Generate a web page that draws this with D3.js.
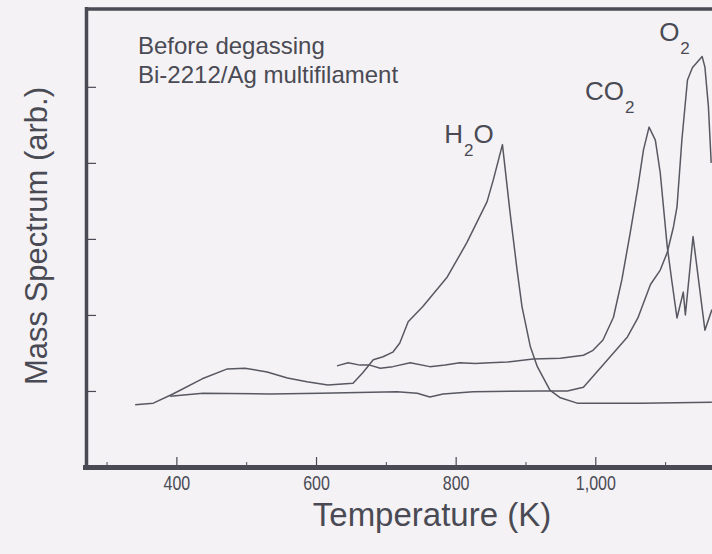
<!DOCTYPE html>
<html>
<head>
<meta charset="utf-8">
<script src="https://cdn.jsdelivr.net/npm/d3@7"></script>
<style>
  html, body { margin: 0; padding: 0; background: #f4f2f4; }
  svg { display: block; }
  text { font-family: "Liberation Sans", Arial, Helvetica, sans-serif; fill: #4a4a54; }
</style>
</head>
<body>
<svg id="chart" width="712" height="554"></svg>
<script>
// Gas evolution during heating of a Bi-2212/Ag multifilament wire (before degassing)

// H2O signal
const h2oTemp = [341, 367, 395, 437, 473, 498, 530, 559, 587, 617, 653, 667, 682, 696, 710, 720, 732, 753, 788, 816, 845, 854, 867, 878, 888, 895, 907, 917, 935, 950, 974, 1064, 1167];
const h2oSignal = [0.82, 0.84, 0.96, 1.16, 1.29, 1.30, 1.25, 1.17, 1.12, 1.08, 1.10, 1.24, 1.41, 1.45, 1.51, 1.63, 1.91, 2.11, 2.50, 2.95, 3.49, 3.78, 4.24, 3.34, 2.59, 2.11, 1.58, 1.32, 1.01, 0.91, 0.84, 0.84, 0.85];

// CO2 signal
const co2Temp = [630, 646, 663, 677, 692, 710, 735, 763, 785, 806, 828, 849, 874, 911, 950, 983, 996, 1011, 1026, 1038, 1050, 1061, 1069, 1077, 1086, 1093, 1103, 1110, 1117, 1126, 1129, 1140, 1157, 1167];
const co2Signal = [1.33, 1.37, 1.34, 1.34, 1.30, 1.32, 1.37, 1.32, 1.34, 1.37, 1.36, 1.37, 1.38, 1.42, 1.43, 1.47, 1.53, 1.67, 1.97, 2.46, 3.08, 3.68, 4.17, 4.47, 4.30, 3.87, 2.90, 2.42, 1.96, 2.30, 2.00, 3.03, 1.80, 2.07];

// O2 signal
const o2Temp = [391, 438, 534, 606, 716, 745, 763, 782, 825, 921, 960, 983, 1011, 1046, 1061, 1079, 1093, 1103, 1112, 1117, 1124, 1132, 1139, 1153, 1157, 1162, 1166];
const o2Signal = [0.93, 0.97, 0.96, 0.97, 0.99, 0.97, 0.92, 0.96, 0.99, 1.00, 1.00, 1.05, 1.34, 1.71, 1.96, 2.40, 2.59, 2.82, 3.16, 3.42, 4.30, 5.09, 5.25, 5.40, 5.26, 4.74, 4.00];

// Axis ticks
const majorTicks = [400, 600, 800, 1000];
const majorLabels = ["400", "600", "800", "1,000"];
const minorTicks = [300, 500, 700, 900, 1100];
const yTicks = [1, 2, 3, 4, 5];

// Peak labels
const peakNames = [
  { main: "H", sub: "2", tail: "O", t: 868, v: 4.24 },
  { main: "CO", sub: "2", tail: "", t: 1077, v: 4.47 },
  { main: "O", sub: "2", tail: "", t: 1153, v: 5.40 }
];

const svg = d3.select("#chart");
const ink = "#4a4a54";

const x = d3.scaleLinear().domain([272, 1170]).range([87, 714]);
const y = d3.scaleLinear().domain([0, 6.05]).range([467, 7]);

// Frame: left, top and bottom edges (the right side runs off the page)
svg.append("line").attr("x1", 86.5).attr("x2", 86.5).attr("y1", 7).attr("y2", 469)
  .attr("stroke", ink).attr("stroke-width", 3.5);
svg.append("line").attr("x1", 85).attr("x2", 712).attr("y1", 9).attr("y2", 9)
  .attr("stroke", ink).attr("stroke-width", 3.5);
svg.append("line").attr("x1", 83).attr("x2", 712).attr("y1", 467.5).attr("y2", 467.5)
  .attr("stroke", ink).attr("stroke-width", 5);

// Inward-pointing ticks
const xMajor = svg.append("g").attr("transform", "translate(0,465)")
  .call(d3.axisBottom(x).tickValues(majorTicks).tickSizeInner(-8).tickSizeOuter(0)
    .tickPadding(11).tickFormat((d, i) => majorLabels[i]));
xMajor.select(".domain").remove();
xMajor.selectAll("line").attr("stroke", ink).attr("stroke-width", 1.2);
xMajor.selectAll("text")
  .attr("font-size", 20)
  .attr("transform", "scale(0.8,1)")
  .style("fill", ink)
  .style("font-family", "'Liberation Sans', Arial, sans-serif");

const xMinor = svg.append("g").attr("transform", "translate(0,465)")
  .call(d3.axisBottom(x).tickValues(minorTicks).tickSizeInner(-3).tickSizeOuter(0).tickFormat(""));
xMinor.select(".domain").remove();
xMinor.selectAll("line").attr("stroke", ink).attr("stroke-width", 1);

const yAxis = svg.append("g").attr("transform", "translate(87,0)")
  .call(d3.axisLeft(y).tickValues(yTicks).tickSizeInner(-9).tickSizeOuter(0).tickFormat(""));
yAxis.select(".domain").remove();
yAxis.selectAll("line").attr("stroke", ink).attr("stroke-width", 1.2);

// Curves
const line = d3.line().x(d => x(d[0])).y(d => y(d[1]));
const series = [
  d3.zip(h2oTemp, h2oSignal),
  d3.zip(co2Temp, co2Signal),
  d3.zip(o2Temp, o2Signal)
];
svg.append("g").selectAll("path").data(series).join("path")
  .attr("d", line)
  .attr("fill", "none")
  .attr("stroke", "#585862")
  .attr("stroke-width", 1.5)
  .attr("stroke-linejoin", "round");

// Peak labels with subscripts, placed up and to the left of each peak
const labelPos = [
  { dx: -59, dy: -2 },
  { dx: -64, dy: -27 },
  { dx: -43, dy: -15 }
];
peakNames.forEach((p, i) => {
  const t = svg.append("text")
    .attr("x", x(p.t) + labelPos[i].dx)
    .attr("y", y(p.v) + labelPos[i].dy)
    .attr("font-size", 26);
  t.append("tspan").text(p.main);
  t.append("tspan").attr("font-size", 17).attr("dx", 1).attr("dy", 13).text(p.sub);
  if (p.tail) t.append("tspan").attr("dy", -13).text(p.tail);
});

// Sample description
svg.append("text").attr("x", 138).attr("y", 54).attr("font-size", 24).text("Before degassing");
svg.append("text").attr("x", 138).attr("y", 83).attr("font-size", 24).text("Bi-2212/Ag multifilament");

// Axis titles
svg.append("text").attr("x", 432).attr("y", 526).attr("text-anchor", "middle")
  .attr("font-size", 33).text("Temperature (K)");
svg.append("text").attr("transform", "translate(47,236) rotate(-90)")
  .attr("text-anchor", "middle").attr("font-size", 31).text("Mass Spectrum (arb.)");
</script>
</body>
</html>
